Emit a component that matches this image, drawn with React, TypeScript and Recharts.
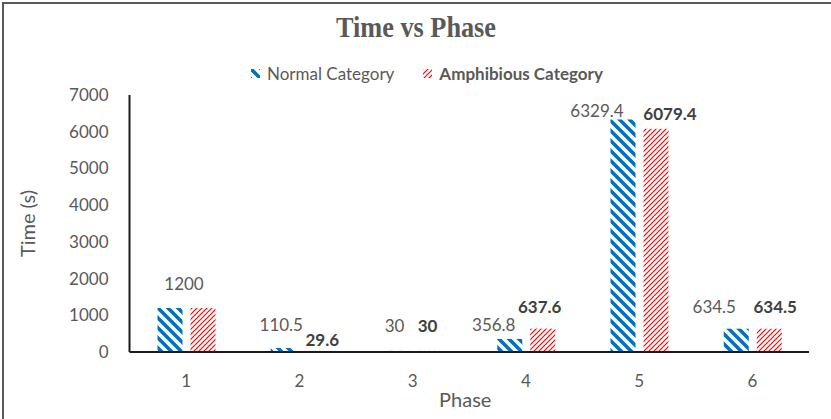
import React from 'react';
import { BarChart, Bar, XAxis, YAxis, Legend } from 'recharts';

const phases = ['1', '2', '3', '4', '5', '6'];
const normalTimes = [1200, 110.5, 30, 356.8, 6329.4, 634.5];
const amphibiousTimes = [1200, 29.6, 30, 637.6, 6079.4, 634.5];
const yTicks = [0, 1000, 2000, 3000, 4000, 5000, 6000, 7000];

// label offsets (dx from bar centre, dy from bar top) — layout only
const normalLabelShift: (number[] | null)[] = [[14, -24], [-2, -23], [-2, -25], [-16, -14], [-26, -9], [-22, -22]];
const amphLabelShift: (number[] | null)[] = [null, [6, -11], [-2, -25], [-3, -22], [14, -15], [6, -22]];

const data = phases.map((p, i) => ({ phase: p, normal: normalTimes[i], amphibious: amphibiousTimes[i] }));

const FONT = 'Lato, "Open Sans", sans-serif';
const BLUE = '#0070C0';
const RED = '#FF0000';

const makeLabel = (shifts: (number[] | null)[], bold: boolean) => (props: any) => {
  const { x, y, width, value, index } = props;
  const s = shifts[index];
  if (!s) return null;
  return (
    <text
      key={`lbl-${bold ? 'a' : 'n'}-${index}`}
      x={Number(x) + Number(width) / 2 + s[0]}
      y={Number(y) + s[1]}
      textAnchor="middle"
      dominantBaseline="central"
      fontFamily={FONT}
      fontSize={17}
      fontWeight={bold ? 700 : 400}
      fill={bold ? '#404040' : '#595959'}
    >
      {value}
    </text>
  );
};

const PatternDefs = ({ prefix }: { prefix: string }) => (
  <defs>
    <pattern id={`${prefix}blue`} patternUnits="userSpaceOnUse" width="10" height="10">
      <rect width="10" height="10" fill="#ffffff" />
      <path d="M-2,-2 L12,12 M-2,8 L2,12 M8,-2 L12,2" stroke={BLUE} strokeWidth="3.6" />
    </pattern>
    <pattern id={`${prefix}red`} patternUnits="userSpaceOnUse" width="5" height="5">
      <rect width="5" height="5" fill="#ffffff" />
      <path d="M-1,1 L1,-1 M0,5 L5,0 M4,6 L6,4" stroke={RED} strokeWidth="1.2" />
    </pattern>
  </defs>
);

const LegendContent = () => (
  <div style={{ display: 'flex', alignItems: 'center', height: 30, fontFamily: FONT, fontSize: 17, color: '#595959', whiteSpace: 'nowrap' }}>
    <svg width={9} height={9} style={{ marginRight: 7 }}>
      <PatternDefs prefix="lg-" />
      <rect width={9} height={9} fill="url(#lg-blue)" />
    </svg>
    <span>Normal Category</span>
    <svg width={9} height={9} style={{ marginLeft: 29, marginRight: 7 }}>
      <rect width={9} height={9} fill="url(#lg-red)" />
    </svg>
    <span style={{ fontWeight: 700, color: '#595959' }}>Amphibious Category</span>
  </div>
);

export default function App() {
  return (
    <div style={{ position: 'absolute', left: 0, top: 0, width: 831, height: 419, overflow: 'hidden', background: '#fff' }}>
      <div style={{ position: 'absolute', left: 2, top: 2, width: 900, height: 500, border: '2px solid #595959', boxSizing: 'border-box' }} />
      <svg style={{ position: 'absolute', left: 0, top: 0 }} width={831} height={50}>
        <text x={416} y={36.5} textAnchor="middle" fontFamily='"Liberation Serif", "Times New Roman", serif' fontWeight={700} fontSize={29} fill="#595959" textLength={160} lengthAdjust="spacingAndGlyphs">
          Time vs Phase
        </text>
      </svg>
      <div style={{ position: 'absolute', left: 0, top: 0 }}>
        <BarChart width={831} height={419} data={data} margin={{ top: 60, right: 22, bottom: 0, left: 0 }} barSize={25} barGap={8}>
          <PatternDefs prefix="ch-" />
          <Legend verticalAlign="top" content={LegendContent} wrapperStyle={{ top: 58, left: 251, width: 420, height: 35 }} />
          <XAxis
            dataKey="phase"
            height={67}
            tickLine={false}
            tickSize={0}
            tickMargin={23}
            axisLine={{ stroke: '#1a1a1a', strokeWidth: 2 }}
            tick={{ fill: '#595959', fontFamily: FONT, fontSize: 17 }}
            label={{ value: 'Phase', position: 'center', dy: 14, dx: -4, fill: '#595959', fontFamily: FONT, fontSize: 20 }}
          />
          <YAxis
            width={129.5}
            domain={[0, 7000]}
            ticks={yTicks}
            interval={0}
            tickLine={false}
            tickSize={0}
            tickMargin={21}
            axisLine={{ stroke: '#1a1a1a', strokeWidth: 2 }}
            tick={{ fill: '#595959', fontFamily: FONT, fontSize: 17 }}
            label={{ value: 'Time (s)', angle: -90, position: 'center', dx: -37, fill: '#595959', fontFamily: FONT, fontSize: 20 }}
          />
          <Bar dataKey="normal" name="Normal Category" fill="url(#ch-blue)" isAnimationActive={false} label={makeLabel(normalLabelShift, false)} />
          <Bar dataKey="amphibious" name="Amphibious Category" fill="url(#ch-red)" isAnimationActive={false} label={makeLabel(amphLabelShift, true)} />
        </BarChart>
      </div>
    </div>
  );
}
